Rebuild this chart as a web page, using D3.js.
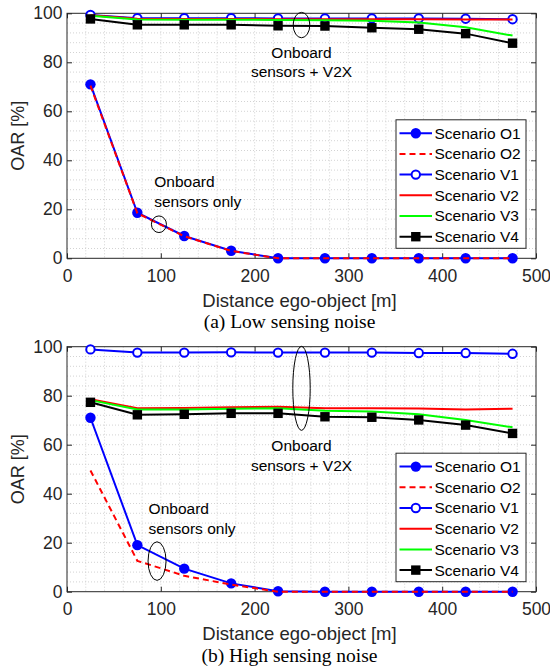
<!DOCTYPE html>
<html>
<head>
<meta charset="utf-8">
<script src="https://cdn.jsdelivr.net/npm/d3@7/dist/d3.min.js"></script>
<style>
  body { margin: 0; background: #fff; }
</style>
</head>
<body>
<div class="oar-chart"></div>
<script>
// distances ego-object [m] where the OAR was evaluated
const distances = [25, 75, 125, 175, 225, 275, 325, 375, 425, 475];
const xTicks = [0, 100, 200, 300, 400, 500];
const yTicks = [0, 20, 40, 60, 80, 100];
const seriesNames = ['Scenario O1', 'Scenario O2', 'Scenario V1', 'Scenario V2', 'Scenario V3', 'Scenario V4'];
const captions = ['(a) Low sensing noise', '(b) High sensing noise'];

// (a) low sensing noise
const lowO1 = [71, 18.6, 9.1, 3.1, 0, 0, 0, 0, 0, 0];
const lowO2 = [70.5, 18.4, 9, 3, 0, 0, 0, 0, 0, 0];
const lowV1 = [99.3, 98, 98, 98, 97.9, 97.9, 97.9, 97.9, 97.8, 97.6];
const lowV2 = [99.2, 97.8, 97.7, 97.7, 97.6, 97.6, 97.6, 97.6, 97.5, 97.5];
const lowV3 = [99, 97.5, 97.4, 97.4, 97.3, 97.2, 97, 96.2, 94.3, 90.9];
const lowV4 = [97.7, 95.3, 95.3, 95.3, 94.9, 94.8, 94.1, 93.5, 91.7, 87.8];

// (b) high sensing noise
const highO1 = [71, 19, 9.4, 3.4, 0.2, 0, 0, 0, 0, 0];
const highO2 = [49.5, 12.6, 6.5, 2.9, 0, 0, 0, 0, 0, 0];
const highV1 = [98.9, 97.6, 97.6, 97.7, 97.6, 97.6, 97.6, 97.4, 97.4, 97.1];
const highV2 = [78.6, 74.9, 75, 75.3, 75.5, 74.9, 74.9, 74.8, 74.4, 74.7];
const highV3 = [78.2, 74.4, 74.4, 74.7, 74.9, 73.9, 73.6, 72.4, 70.1, 67.1];
const highV4 = [77.3, 72.2, 72.4, 72.8, 72.8, 71.4, 71.2, 70.1, 68, 64.6];

const margin = {left: 67, width: 469, height: 245};
const panelTops = [13.3, 346.7];
const textColor = '#262626';
const sansFont = '"Liberation Sans", Arial, sans-serif';

// line style per scenario
const styles = [
  {color: '#0000ff', dash: null, marker: 'dot'},
  {color: '#ff0000', dash: '6,4', marker: null},
  {color: '#0000ff', dash: null, marker: 'ring'},
  {color: '#ff0000', dash: null, marker: null},
  {color: '#00ff00', dash: null, marker: null},
  {color: '#000000', dash: null, marker: 'square'}
];

const panels = [
  {series: [lowO1, lowO2, lowV1, lowV2, lowV3, lowV4],
   v2x: {x: 250, y: 95.2, rx: 8.3, ry: 12.7, tx: 250, ty: 81.8},
   only: {x: 98, y: 13.9, rx: 7.5, ry: 8.3, tx: 93, ty: 29}},
  {series: [highO1, highO2, highV1, highV2, highV3, highV4],
   v2x: {x: 250, y: 83, rx: 8.7, ry: 42, tx: 250, ty: 57.3},
   only: {x: 96, y: 12.5, rx: 9, ry: 19.3, tx: 87, ty: 31.7}}
];

const svg = d3.select('.oar-chart')
  .append('svg')
  .attr('width', 550)
  .attr('height', 671)
  .style('background', '#fff');

const x = d3.scaleLinear().domain([0, 500]).range([0, margin.width]);
const y = d3.scaleLinear().domain([0, 100]).range([margin.height, 0]);

function drawMarker(sel, kind, color) {
  if (kind === 'dot') {
    sel.append('circle').attr('r', 5.2).attr('fill', color);
  } else if (kind === 'ring') {
    sel.append('circle').attr('r', 4.2).attr('fill', '#fff')
      .attr('stroke', color).attr('stroke-width', 2);
  } else if (kind === 'square') {
    sel.append('rect').attr('x', -4.7).attr('y', -4.7)
      .attr('width', 9.4).attr('height', 9.4).attr('fill', color);
  }
}

panels.forEach(function(panel, p) {
  const g = svg.append('g')
    .attr('transform', `translate(${margin.left},${panelTops[p]})`);

  // minor + major grid, dotted like the matlab figure
  const grid = g.append('g').attr('fill', 'none');
  grid.selectAll('.gx')
    .data(d3.range(20, 500, 20))
    .enter().append('line')
    .attr('x1', d => x(d)).attr('x2', d => x(d))
    .attr('y1', 0).attr('y2', margin.height)
    .attr('stroke', '#c8c8c8').attr('stroke-width', 0.8)
    .attr('stroke-dasharray', '1,2');
  grid.selectAll('.gy')
    .data(d3.range(4, 100, 4))
    .enter().append('line')
    .attr('x1', 0).attr('x2', margin.width)
    .attr('y1', d => y(d)).attr('y2', d => y(d))
    .attr('stroke', '#c8c8c8').attr('stroke-width', 0.8)
    .attr('stroke-dasharray', '1,2');

  // axes with inward ticks on all four sides
  const bottom = g.append('g')
    .attr('transform', `translate(0,${margin.height})`)
    .call(d3.axisBottom(x).tickValues(xTicks).tickSizeInner(-5).tickSizeOuter(0));
  bottom.selectAll('text').attr('y', 23.5).attr('dy', null);
  g.append('g')
    .call(d3.axisLeft(y).tickValues(yTicks).tickSizeInner(-5).tickSizeOuter(0).tickPadding(4.5));
  g.append('g')
    .call(d3.axisTop(x).tickValues(xTicks).tickSizeInner(-5).tickSizeOuter(0).tickFormat(''));
  g.append('g')
    .attr('transform', `translate(${margin.width},0)`)
    .call(d3.axisRight(y).tickValues(yTicks).tickSizeInner(-5).tickSizeOuter(0).tickFormat(''));
  g.selectAll('.domain').remove();
  g.selectAll('.tick line').attr('stroke', textColor);
  g.selectAll('.tick text')
    .attr('fill', textColor)
    .style('font-family', sansFont)
    .style('font-size', '17.5px');

  g.append('rect')
    .attr('width', margin.width).attr('height', margin.height)
    .attr('fill', 'none').attr('stroke', textColor).attr('stroke-width', 1);

  // series lines and markers
  const line = d3.line()
    .x((d, i) => x(distances[i]))
    .y(d => y(d));
  panel.series.forEach(function(values, s) {
    const st = styles[s];
    g.append('path')
      .datum(values)
      .attr('fill', 'none')
      .attr('stroke', st.color)
      .attr('stroke-width', 2)
      .attr('stroke-dasharray', st.dash)
      .attr('d', line);
    if (st.marker) {
      g.append('g').selectAll('g')
        .data(values)
        .enter().append('g')
        .attr('transform', (d, i) => `translate(${x(distances[i])},${y(d)})`)
        .each(function() { drawMarker(d3.select(this), st.marker, st.color); });
    }
  });

  // annotations
  const note = function(a, lines, anchor) {
    g.append('ellipse')
      .attr('cx', x(a.x)).attr('cy', y(a.y))
      .attr('rx', a.rx).attr('ry', a.ry)
      .attr('fill', 'none').attr('stroke', '#000').attr('stroke-width', 1);
    const t = g.append('text')
      .attr('x', x(a.tx)).attr('y', y(a.ty))
      .attr('text-anchor', anchor)
      .style('font-family', sansFont)
      .style('font-size', '15.5px')
      .attr('fill', '#000');
    lines.forEach(function(l, i) {
      t.append('tspan').attr('x', x(a.tx)).attr('dy', i === 0 ? 0 : 19.5).text(l);
    });
  };
  note(panel.v2x, ['Onboard', 'sensors + V2X'], 'middle');
  note(panel.only, ['Onboard', 'sensors only'], 'start');

  // legend
  const leg = g.append('g')
    .attr('transform', `translate(${margin.width - 140},${margin.height - 10 - 128.5})`);
  leg.append('rect')
    .attr('width', 130).attr('height', 128.5)
    .attr('fill', '#fff').attr('stroke', textColor).attr('stroke-width', 1);
  seriesNames.forEach(function(name, s) {
    const st = styles[s];
    const row = leg.append('g').attr('transform', `translate(0,${13.4 + s * 20.7})`);
    row.append('line')
      .attr('x1', 3.5).attr('x2', 36)
      .attr('stroke', st.color).attr('stroke-width', 2)
      .attr('stroke-dasharray', st.dash);
    if (st.marker) {
      drawMarker(row.append('g').attr('transform', 'translate(19.8,0)'), st.marker, st.color);
    }
    row.append('text')
      .attr('x', 38.5).attr('dy', '0.35em')
      .style('font-family', sansFont)
      .style('font-size', '15.5px')
      .attr('fill', '#000')
      .text(name);
  });

  // axis titles and caption
  svg.append('text')
    .attr('transform', `translate(24,${panelTops[p] + margin.height / 2}) rotate(-90)`)
    .attr('text-anchor', 'middle')
    .style('font-family', sansFont)
    .style('font-size', '18px')
    .attr('fill', textColor)
    .text('OAR [%]');
  svg.append('text')
    .attr('x', margin.left + margin.width / 2 - 2)
    .attr('y', panelTops[p] + margin.height + 48.5)
    .attr('text-anchor', 'middle')
    .style('font-family', sansFont)
    .style('font-size', '18.5px')
    .attr('fill', textColor)
    .text('Distance ego-object [m]');
  svg.append('text')
    .attr('x', margin.left + margin.width / 2 - 12)
    .attr('y', panelTops[p] + margin.height + 70)
    .attr('text-anchor', 'middle')
    .style('font-family', '"Liberation Serif", "Times New Roman", serif')
    .style('font-size', '19.5px')
    .attr('fill', '#000')
    .text(captions[p]);
});
</script>
</body>
</html>
